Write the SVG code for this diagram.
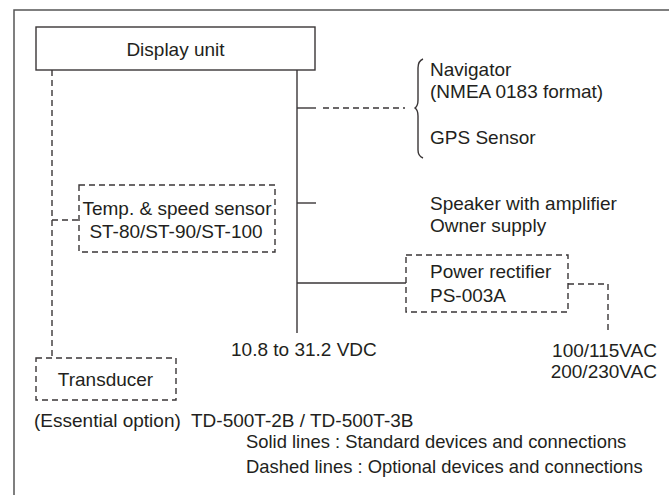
<svg xmlns="http://www.w3.org/2000/svg" width="669" height="495" viewBox="0 0 669 495">
<style>
  text { font-family: "Liberation Sans", Arial, sans-serif; font-size: 19px; fill: #231f20; }
  .note { font-size: 18.4px; }
  .solid { fill: none; stroke: #3a3637; stroke-width: 1.4; }
  .dash { fill: none; stroke: #3a3637; stroke-width: 1.4; stroke-dasharray: 6 4; }
  .box { fill: #ffffff; stroke: #3a3637; stroke-width: 1.4; }
  .dbox { fill: none; stroke: #3a3637; stroke-width: 1.4; stroke-dasharray: 6 4; }
</style>
<rect width="669" height="495" fill="#ffffff"/>
<path d="M14,495 V10 H669" fill="none" stroke="#555" stroke-width="1.5"/>

<g id="connectors">
  <path class="solid" d="M297,70 V333"/>
  <path class="solid" d="M297,108 H316"/>
  <path class="dash" d="M323,108 H405"/>
  <path class="solid" d="M297,203 H316"/>
  <path class="solid" d="M297,283 H406"/>
  <path class="dash" d="M568,284 H608 V334"/>
  <path class="dash" d="M52,70 V358"/>
  <path class="dash" d="M52,220 H79"/>
  <path class="solid" d="M423,59 Q418,61 418,68 L418,100 Q418,106 415,108 Q418,110 418,116 L418,150 Q418,156 423,158" stroke-width="1"/>
</g>

<g id="display-unit">
  <rect class="box" x="36" y="27" width="279" height="43"/>
  <text x="175.5" y="56" text-anchor="middle" font-size="20">Display unit</text>
</g>

<g id="navigator">
  <text x="430" y="76">Navigator</text>
  <text x="430" y="98">(NMEA 0183 format)</text>
  <text x="430" y="144">GPS Sensor</text>
</g>

<g id="speaker">
  <text x="430" y="210">Speaker with amplifier</text>
  <text x="430" y="232">Owner supply</text>
</g>

<g id="temp-sensor">
  <rect class="dbox" x="79" y="185" width="196" height="67"/>
  <text x="177" y="215" text-anchor="middle">Temp. &amp; speed sensor</text>
  <text x="176" y="238" text-anchor="middle">ST-80/ST-90/ST-100</text>
</g>

<g id="power-rectifier">
  <rect class="dbox" x="406" y="255" width="162" height="57"/>
  <text x="430" y="278">Power rectifier</text>
  <text x="430" y="302">PS-003A</text>
</g>

<g id="dc-supply">
  <text x="231" y="356">10.8 to 31.2 VDC</text>
</g>

<g id="ac-supply">
  <text x="657" y="357" text-anchor="end">100/115VAC</text>
  <text x="657" y="378" text-anchor="end">200/230VAC</text>
</g>

<g id="transducer">
  <rect class="dbox" x="36" y="358" width="140" height="42"/>
  <text x="105.5" y="386" text-anchor="middle">Transducer</text>
</g>

<g id="notes">
  <text x="34" y="427">(Essential option)</text>
  <text x="191" y="427">TD-500T-2B / TD-500T-3B</text>
  <text class="note" x="246" y="448">Solid lines : Standard devices and connections</text>
  <text class="note" x="246" y="473">Dashed lines : Optional devices and connections</text>
</g>
</svg>
